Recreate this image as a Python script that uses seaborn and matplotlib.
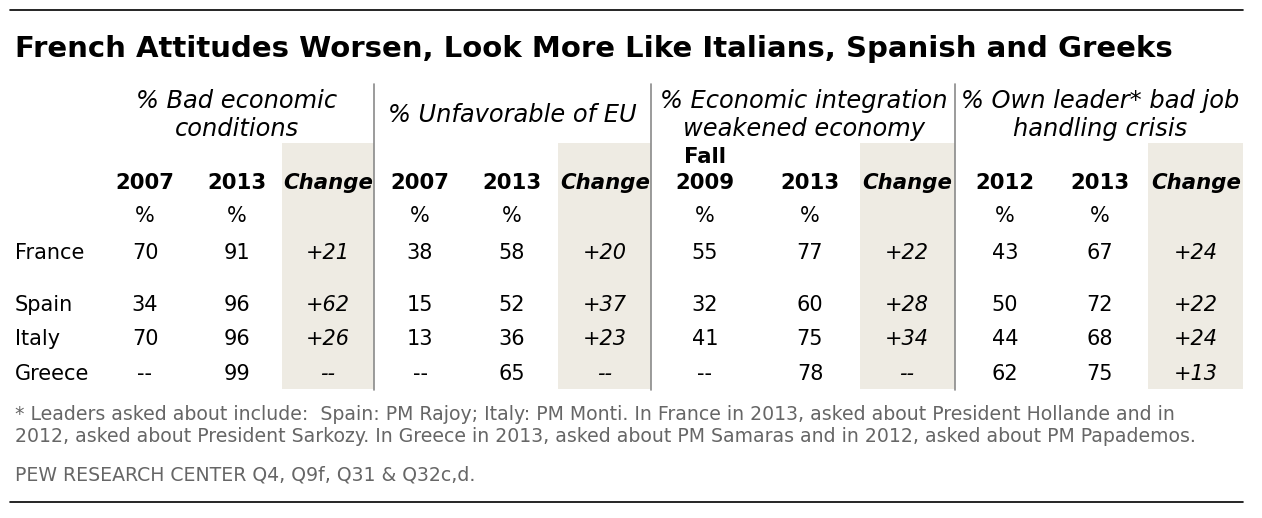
import matplotlib.pyplot as plt
import seaborn as sns

title = "French Attitudes Worsen, Look More Like Italians, Spanish and Greeks"
group_titles = ["% Bad economic\nconditions", "% Unfavorable of EU",
                "% Economic integration\nweakened economy", "% Own leader* bad job\nhandling crisis"]
year_labels = [["2007", "2013"], ["2007", "2013"], ["Fall\n2009", "2013"], ["2012", "2013"]]
countries = ["France", "Spain", "Italy", "Greece"]

# (first year, 2013) per country, None = not asked
bad_economy = [(70, 91), (34, 96), (70, 96), (None, 99)]
unfavorable_eu = [(38, 58), (15, 52), (13, 36), (None, 65)]
integration_weakened = [(55, 77), (32, 60), (41, 75), (None, 78)]
leader_bad_job = [(43, 67), (50, 72), (44, 68), (62, 75)]
groups = [bad_economy, unfavorable_eu, integration_weakened, leader_bad_job]

footnote = ("* Leaders asked about include:  Spain: PM Rajoy; Italy: PM Monti. In France in 2013, asked about President Hollande and in\n"
            "2012, asked about President Sarkozy. In Greece in 2013, asked about PM Samaras and in 2012, asked about PM Papademos.")
source = "PEW RESEARCH CENTER Q4, Q9f, Q31 & Q32c,d."

sns.set_theme(style="white")
plt.rcParams['font.family'] = ['DejaVu Sans']
plt.rcParams['text.color'] = 'black'

W, H = 1262, 518
fig = plt.figure(figsize=(W / 100, H / 100), dpi=100)
ax = fig.add_axes([0, 0, 1, 1])
ax.set_xlim(0, W)
ax.set_ylim(H, 0)
ax.axis("off")

# layout (pixel coordinates)
col_x = [[145, 237, 328], [420, 512, 605], [705, 810, 907], [1005, 1100, 1196]]
shade_x = [(282, 374), (558, 651), (860, 955), (1148, 1243)]
sep_x = [374, 651, 955]
group_cx = [237, 512, 804, 1100]
row_y = [253, 305, 339, 374]
shade = "#eeebe3"
fs = 15

ax.plot([10, 1243], [10, 10], color="black", lw=1.2)
ax.plot([10, 1243], [502, 502], color="black", lw=1.2)
ax.text(15, 49, title, fontsize=21, fontweight="bold", va="center", ha="left")

for g in range(4):
    x0, x1 = shade_x[g]
    ax.fill_between([x0, x1], 143, 389, color=shade, lw=0)
for x in sep_x:
    ax.plot([x, x], [84, 390], color="#8a8a8a", lw=1.2)

for g, data in enumerate(groups):
    ax.text(group_cx[g], 115, group_titles[g], fontsize=17.4, style="italic",
            ha="center", va="center", linespacing=1.2)
    cx = col_x[g]
    for k in range(2):
        lab = year_labels[g][k]
        ax.text(cx[k], 183, lab.split("\n")[-1], fontsize=15.3, fontweight="bold", ha="center", va="center")
        if "\n" in lab:
            ax.text(cx[k], 157, lab.split("\n")[0], fontsize=15.3, fontweight="bold", ha="center", va="center")
        ax.text(cx[k], 216, "%", fontsize=fs, ha="center", va="center")
    ax.text(cx[2], 183, "Change", fontsize=15.3, fontweight="bold", style="italic", ha="center", va="center")
    for r, (a, b) in enumerate(data):
        ax.text(cx[0], row_y[r], "--" if a is None else str(a), fontsize=fs, ha="center", va="center")
        ax.text(cx[1], row_y[r], str(b), fontsize=fs, ha="center", va="center")
        chg = "--" if a is None else f"+{b - a}"
        ax.text(cx[2], row_y[r], chg, fontsize=fs, style="italic", ha="center", va="center")

for r, c in enumerate(countries):
    ax.text(15, row_y[r], c, fontsize=fs, ha="left", va="center")

ax.text(15, 426, footnote, fontsize=13.6, color="#666666", ha="left", va="center", linespacing=1.2)
ax.text(15, 475, source, fontsize=13.6, color="#666666", ha="left", va="center")

fig.savefig("out.png", dpi=100)
